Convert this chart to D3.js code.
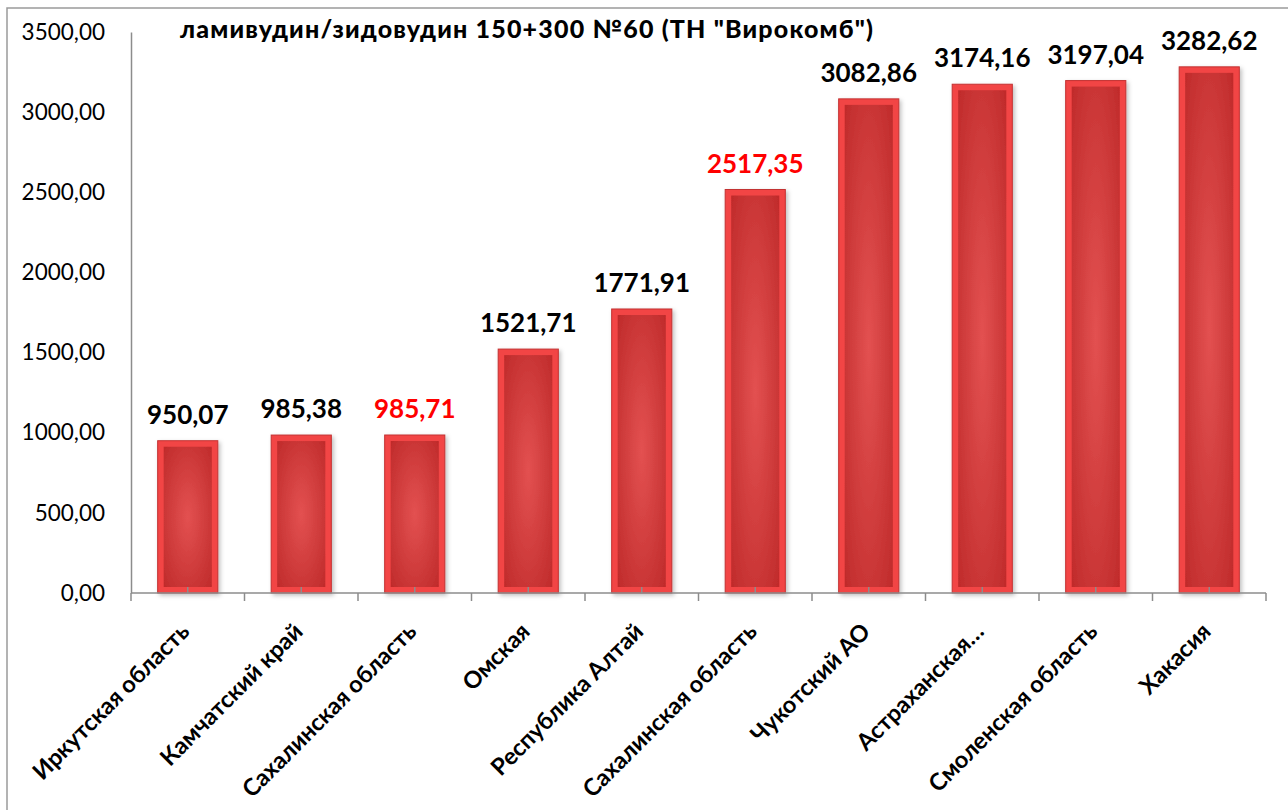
<!DOCTYPE html>
<html>
<head>
<meta charset="utf-8">
<script src="https://cdn.jsdelivr.net/npm/d3@7"></script>
<style>
  body { margin: 0; background: #fff; }
  svg { display: block; }
</style>
</head>
<body>
<svg id="chart" width="1288" height="810"></svg>
<script>
// data
var regions = ["Иркутская область", "Камчатский край", "Сахалинская область", "Омская",
    "Республика Алтай", "Сахалинская область", "Чукотский АО", "Астраханская…",
    "Смоленская область", "Хакасия"];
var prices = [950.07, 985.38, 985.71, 1521.71, 1771.91, 2517.35, 3082.86, 3174.16, 3197.04, 3282.62];
var labelColors = ["#000", "#000", "#ff0000", "#000", "#000", "#ff0000", "#000", "#000", "#000", "#000"];
var yTicks = [0, 500, 1000, 1500, 2000, 2500, 3000, 3500];
var title = "ламивудин/зидовудин 150+300 №60 (ТН \"Вирокомб\")";

var svg = d3.select("#chart");
var margin = { top: 32, right: 22, bottom: 217, left: 131 };
var w = 1288, h = 810;
var width = w - margin.left - margin.right,
    height = h - margin.top - margin.bottom;

var fmt = function (v) { return d3.format(".2f")(v).replace(".", ","); };

// outer frame (chart area border)
svg.append("path")
    .attr("d", "M7,810 V8 H1288")
    .attr("fill", "none")
    .attr("stroke", "#9a9a9a")
    .attr("stroke-width", 1.5);

var defs = svg.append("defs");
var grad = defs.append("radialGradient")
    .attr("id", "barInner")
    .attr("cx", "50%").attr("cy", "50%").attr("r", "75%");
grad.append("stop").attr("offset", "0%").attr("stop-color", "#e35151");
grad.append("stop").attr("offset", "100%").attr("stop-color", "#bd2828");

var shadow = defs.append("filter").attr("id", "shadow")
    .attr("x", "-20%").attr("y", "-20%").attr("width", "140%").attr("height", "140%");
shadow.append("feDropShadow")
    .attr("dx", 2).attr("dy", 2).attr("stdDeviation", 2)
    .attr("flood-color", "#000").attr("flood-opacity", 0.25);

var g = svg.append("g").attr("transform", "translate(" + margin.left + "," + margin.top + ")");

var x = d3.scaleBand()
    .domain(d3.range(regions.length))
    .range([0, width])
    .paddingInner(0.47)
    .paddingOuter(0.235);

var y = d3.scaleLinear()
    .domain([0, 3500])
    .range([height, 0]);

// y axis
var yAxis = g.append("g")
    .attr("class", "yaxis")
    .call(d3.axisLeft(y).tickValues(yTicks).tickSize(0).tickPadding(26).tickFormat(fmt));
yAxis.select(".domain").attr("stroke", "#8c8c8c").attr("stroke-width", 1.5);
yAxis.selectAll("text")
    .attr("font-family", "Lato, sans-serif")
    .attr("font-size", 22.5)
    .attr("fill", "#000");

// bars
var bars = g.append("g").selectAll("g")
    .data(prices)
    .enter().append("g")
    .attr("filter", "url(#shadow)");

bars.append("rect")
    .attr("x", function (d, i) { return x(i); })
    .attr("y", function (d) { return y(d); })
    .attr("width", x.bandwidth())
    .attr("height", function (d) { return height - y(d); })
    .attr("fill", "#f24545")
    .attr("stroke", "#c33232")
    .attr("stroke-width", 1);

var inset = 6;
bars.append("rect")
    .attr("x", function (d, i) { return x(i) + inset; })
    .attr("y", function (d) { return y(d) + inset; })
    .attr("width", x.bandwidth() - 2 * inset)
    .attr("height", function (d) { return Math.max(0, height - y(d) - 2 * inset); })
    .attr("fill", "url(#barInner)");

// x axis
var xAxisG = g.append("g").attr("transform", "translate(0," + height + ")");
xAxisG.append("line")
    .attr("x1", 0).attr("x2", width)
    .attr("stroke", "#8c8c8c").attr("stroke-width", 1.5);
xAxisG.selectAll("line.tick")
    .data(d3.range(regions.length + 1))
    .enter().append("line")
    .attr("class", "tick")
    .attr("x1", function (d) { return d * x.step(); })
    .attr("x2", function (d) { return d * x.step(); })
    .attr("y1", 0).attr("y2", 8)
    .attr("stroke", "#8c8c8c").attr("stroke-width", 1.5);
xAxisG.selectAll("line.mid")
    .data(d3.range(regions.length))
    .enter().append("line")
    .attr("class", "mid")
    .attr("x1", function (d) { return x(d) + x.bandwidth() / 2; })
    .attr("x2", function (d) { return x(d) + x.bandwidth() / 2; })
    .attr("y1", 0).attr("y2", -6)
    .attr("stroke", "#8c8c8c").attr("stroke-width", 1.5);

xAxisG.selectAll("text")
    .data(regions)
    .enter().append("text")
    .attr("transform", function (d, i) {
        return "translate(" + (x(i) + x.bandwidth() / 2 + 3) + ",40) rotate(-45)";
    })
    .attr("text-anchor", "end")
    .attr("font-family", "Lato, sans-serif")
    .attr("font-weight", "bold")
    .attr("font-size", 23.5)
    .attr("fill", "#000")
    .text(function (d) { return d; });

// value labels
g.append("g").selectAll("text")
    .data(prices)
    .enter().append("text")
    .attr("x", function (d, i) { return x(i) + x.bandwidth() / 2; })
    .attr("y", function (d) { return y(d) - 17; })
    .attr("text-anchor", "middle")
    .attr("font-family", "Lato, sans-serif")
    .attr("font-weight", "bold")
    .attr("font-size", 26)
    .attr("fill", function (d, i) { return labelColors[i]; })
    .text(fmt);

// title
svg.append("text")
    .attr("x", 180)
    .attr("y", 38)
    .attr("font-family", "Lato, sans-serif")
    .attr("font-weight", 900)
    .attr("font-size", 25)
    .attr("textLength", 693)
    .attr("lengthAdjust", "spacing")
    .attr("fill", "#000")
    .text(title);
</script>
</body>
</html>
